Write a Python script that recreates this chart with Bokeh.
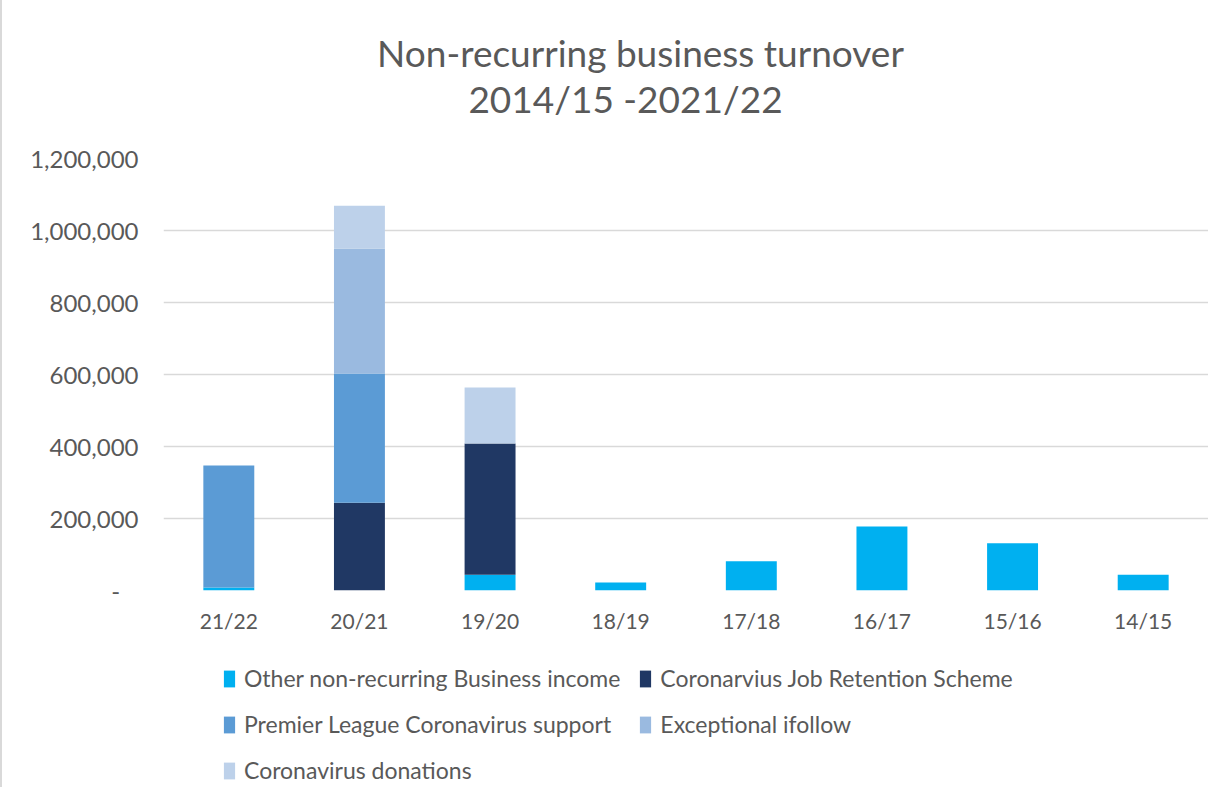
from bokeh.plotting import figure
from bokeh.layouts import column
from bokeh.models import (FactorRange, Range1d, Label, Legend, LegendItem,
                          NumeralTickFormatter, SingleIntervalTicker)
from bokeh.embed import file_html
from bokeh.resources import INLINE

categories = ["21/22", "20/21", "19/20", "18/19", "17/18", "16/17", "15/16", "14/15"]
other = [8000, 0, 44000, 22000, 81000, 178000, 131000, 44000]
jrs = [0, 244000, 364000, 0, 0, 0, 0, 0]
pl_support = [339000, 359000, 0, 0, 0, 0, 0, 0]
ifollow = [0, 347000, 0, 0, 0, 0, 0, 0]
donations = [0, 119000, 156000, 0, 0, 0, 0, 0]

series_names = ["Other non-recurring Business income", "Coronarvius Job Retention Scheme",
                "Premier League Coronavirus support", "Exceptional ifollow",
                "Coronavirus donations"]
series_keys = ["other", "jrs", "pl", "ifollow", "donations"]
colors = ["#00b0f0", "#203864", "#5b9bd5", "#9abae0", "#bdd1ea"]
title_lines = ["Non-recurring business turnover", "2014/15 -2021/22"]

FONT = "Lato"
TXT = "#595959"
W = 1206
LEFT = 161
TITLE_H = 140

data = dict(cat=categories, other=other, jrs=jrs, pl=pl_support,
            ifollow=ifollow, donations=donations)

# ---- title strip (a frame in screen-like units) ----
pt = figure(x_range=Range1d(LEFT, W), y_range=Range1d(0, TITLE_H),
            width=W, height=TITLE_H, output_backend="svg", toolbar_location=None,
            min_border_left=LEFT, min_border_right=0, min_border_top=0,
            min_border_bottom=0)
pt.outline_line_color = None
pt.axis.visible = False
pt.grid.grid_line_color = None
for txt, (tx, ty) in zip(title_lines, [(638, 88), (623, 42)]):
    pt.add_layout(Label(x=tx, y=ty, text=txt, text_align="center",
                        text_baseline="middle", text_font=FONT,
                        text_font_size="37px", text_color=TXT))

# ---- main chart ----
p = figure(x_range=FactorRange(factors=categories, range_padding=0),
           y_range=Range1d(0, 1200000),
           width=W, height=640 - TITLE_H, output_backend="svg", toolbar_location=None,
           min_border_left=LEFT, min_border_right=0, min_border_top=158 - TITLE_H,
           min_border_bottom=50, title=None)
p.outline_line_color = None

renderers = p.vbar_stack(series_keys, x="cat", width=0.39, source=data,
                         color=colors, line_color=None)

p.xaxis.axis_line_color = None
p.xaxis.major_tick_line_color = None
p.xaxis.minor_tick_line_color = None
p.xaxis.major_label_text_font = FONT
p.xaxis.major_label_text_font_size = "21px"
p.xaxis.major_label_text_color = TXT
p.xaxis.major_label_standoff = 11

p.yaxis.ticker = SingleIntervalTicker(interval=200000)
p.yaxis.formatter = NumeralTickFormatter(format="0,0")
p.yaxis.major_label_overrides = {0: "-\u00a0\u00a0\u00a0"}
p.yaxis.axis_line_color = None
p.yaxis.major_tick_line_color = None
p.yaxis.minor_tick_line_color = None
p.yaxis.major_label_text_font = FONT
p.yaxis.major_label_text_font_size = "24px"
p.yaxis.major_label_text_color = TXT
p.yaxis.major_label_standoff = 19

p.xgrid.grid_line_color = None
p.ygrid.grid_line_color = "#d9d9d9"
p.ygrid.grid_line_width = 1.5

# ---- legend strip: same stacked series, hidden, so only the legend shows ----
pl = figure(x_range=FactorRange(factors=categories, range_padding=0),
            y_range=Range1d(0, 1200000), width=W, height=147,
            output_backend="svg", toolbar_location=None,
            min_border_left=LEFT, min_border_right=0, min_border_top=0,
            min_border_bottom=0)
pl.outline_line_color = None
pl.axis.visible = False
pl.grid.grid_line_color = None
leg_renderers = pl.vbar_stack(series_keys, x="cat", width=0.39, source=data,
                              color=colors, line_color=None)
for r in leg_renderers:
    r.visible = False

items = [LegendItem(label=n, renderers=[r]) for n, r in zip(series_names, leg_renderers)]
legend = Legend(items=items, orientation="horizontal", ncols=2,
                location=(59, 3), margin=0, padding=0,
                glyph_width=14, glyph_height=21, label_height=21,
                label_width=367, label_standoff=8, spacing=18,
                label_text_font=FONT, label_text_font_size="23px",
                label_text_color=TXT, border_line_color=None,
                background_fill_alpha=0, inactive_fill_alpha=0,
                click_policy="none")
pl.add_layout(legend, "center")

layout = column(pt, p, pl, spacing=0)
layout.styles = {"border-left": "2px solid #d9d9d9"}

open("out.html", "w").write(file_html(layout, INLINE))
